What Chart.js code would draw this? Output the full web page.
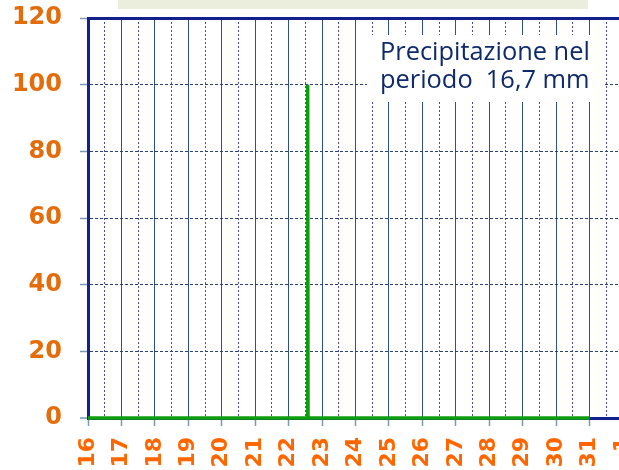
<!DOCTYPE html>
<html>
<head>
<meta charset="utf-8">
<script src="https://cdn.jsdelivr.net/npm/chart.js@4.4.1/dist/chart.umd.min.js"></script>
<style>
  html, body { margin: 0; padding: 0; overflow: hidden; background: #fff; }
  #wrap { width: 660px; height: 470px; }
</style>
</head>
<body>
<div id="wrap"><canvas id="grafico" width="660" height="470"></canvas></div>
<script>
// giorni sull'asse x (l'ultimo e' il primo del mese dopo, tagliato a destra)
const giorni = [16, 17, 18, 19, 20, 21, 22, 23, 24, 25, 26, 27, 28, 29, 30, 31, 32];
const etichetteGiorni = ['16', '17', '18', '19', '20', '21', '22', '23', '24', '25', '26', '27', '28', '29', '30', '31', '1'];
// mezze giornate (griglia tratteggiata)
const mezziGiorni = [16.5, 17.5, 18.5, 19.5, 20.5, 21.5, 22.5, 23.5, 24.5, 25.5, 26.5, 27.5, 28.5, 29.5, 30.5, 31.5];
// serie: precipitazione (%)
const tempi = [16, 22.56, 22.57, 22.58, 31];
const pioggia = [0, 0, 100, 0, 0];
// asse y
const valoriY = [0, 20, 40, 60, 80, 100, 120];
// riquadro di testo
const testoRiquadro = ['Precipitazione nel', 'periodo  16,7 mm'];

const blu = '#14218a';

// sfondo titolo e riquadro bianco con il totale
const riquadri = {
  id: 'riquadri',
  beforeDraw(chart) {
    const ctx = chart.ctx;
    ctx.save();
    ctx.fillStyle = '#ebeedd';
    ctx.fillRect(118, 0, 470, 9);
    ctx.restore();
  },
  beforeDatasetsDraw(chart) {
    const ctx = chart.ctx;
    ctx.save();
    ctx.fillStyle = '#ffffff';
    ctx.fillRect(367, 35, 238, 67);
    // adatta la dimensione del font alla larghezza del testo originale
    ctx.font = '20px "Open Sans"';
    const w = ctx.measureText(testoRiquadro[0]).width;
    const size = 20 * 210 / w;
    ctx.font = size.toFixed(1) + 'px "Open Sans"';
    ctx.fillStyle = '#0f2a6b';
    ctx.textBaseline = 'alphabetic';
    ctx.fillText(testoRiquadro[0], 380, 60);
    ctx.fillText(testoRiquadro[1], 380, 88);
    ctx.restore();
  }
};

new Chart(document.getElementById('grafico').getContext('2d'), {
  type: 'line',
  data: {
    datasets: [{
      data: tempi.map((t, i) => ({ x: t, y: pioggia[i] })),
      borderColor: '#0e9e0e',
      borderWidth: 3.5,
      pointRadius: 0,
      tension: 0,
      fill: false,
      clip: false
    }]
  },
  options: {
    responsive: false,
    animation: false,
    layout: { padding: { top: 18, right: 37, bottom: 0, left: 0 } },
    plugins: { legend: { display: false }, tooltip: { enabled: false } },
    scales: {
      x: {
        type: 'linear',
        position: 'bottom',
        min: 16,
        max: 32,
        afterBuildTicks: s => { s.ticks = giorni.map(v => ({ value: v })); },
        afterFit: s => { s.height = 52; s.paddingLeft = 0; s.paddingRight = 0; },
        ticks: {
          autoSkip: false,
          minRotation: 90,
          maxRotation: 90,
          padding: 11,
          color: '#ff6600',
          font: { family: 'DejaVu Sans', weight: 'bold', size: 22 },
          callback: (v, i) => etichetteGiorni[i]
        },
        grid: {
          color: '#2f4f8f',
          lineWidth: 1,
          tickLength: 8,
          tickColor: '#7f96b2',
          tickWidth: 1.5
        },
        border: { display: true, color: blu, width: 3 }
      },
      x2: {
        type: 'linear',
        position: 'bottom',
        min: 16,
        max: 32,
        afterBuildTicks: s => { s.ticks = mezziGiorni.map(v => ({ value: v })); },
        afterFit: s => { s.height = 0; s.paddingLeft = 0; s.paddingRight = 0; },
        ticks: { display: false },
        grid: { color: '#4848c0', lineWidth: 1, drawTicks: false },
        border: { display: false, dash: [2, 2] }
      },
      y: {
        min: 0,
        max: 120,
        afterBuildTicks: s => { s.ticks = valoriY.map(v => ({ value: v })); },
        afterFit: s => { s.width = 88; s.paddingTop = 0; s.paddingBottom = 0; },
        ticks: {
          padding: 18,
          color: '#e46c0a',
          font: { family: 'DejaVu Sans', weight: 'bold', size: 24 }
        },
        grid: {
          color: c => c.tick && c.tick.value === 120 ? blu : '#2a4272',
          lineWidth: c => c.tick && c.tick.value === 120 ? 3 : (c.tick && c.tick.value === 0 ? 0 : 1),
          tickLength: 8,
          tickColor: '#7f96b2',
          tickWidth: 1.5
        },
        border: {
          display: true,
          color: blu,
          width: 3,
          dash: c => (c.type === 'tick' && c.tick && c.tick.value !== 120) ? [3, 2] : []
        }
      }
    }
  },
  plugins: [riquadri]
});
</script>
</body>
</html>
